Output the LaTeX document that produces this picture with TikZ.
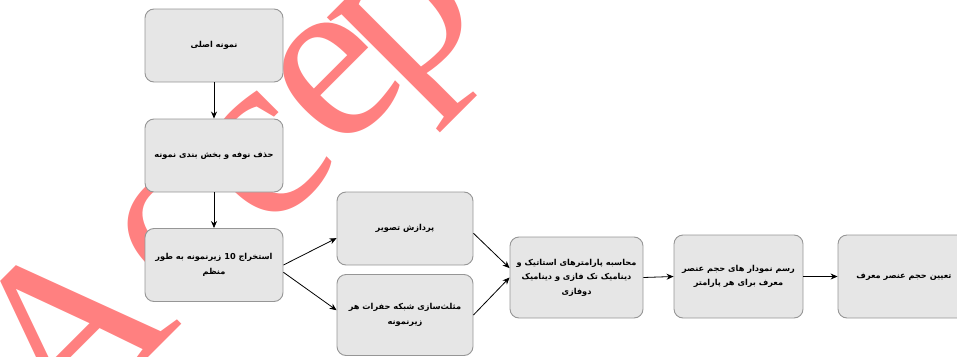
\documentclass[tikz,border=0pt]{standalone}
\usepackage{fontspec}
\usetikzlibrary{arrows.meta,positioning}
\TeXXeTstate=1
\newfontfamily\farsi[Script=Arabic]{DejaVu Sans}
\newfontfamily\wmfont{Liberation Serif}
\definecolor{boxfill}{RGB}{230,230,230}
\definecolor{boxline}{RGB}{150,150,150}
\definecolor{wmred}{RGB}{255,128,128}
\newcommand{\fatext}[1]{\beginR #1\endR}

\begin{document}
\begin{tikzpicture}[x=1pt,y=-1pt,
		box/.style={draw=boxline, fill=boxfill, rounded corners=9pt, line width=0.9pt, align=center, inner sep=2pt,
			font=\farsi\bfseries\fontsize{8.2}{14.5}\selectfont},
		flow/.style={-{Stealth[length=7pt,width=6pt]}, line width=0.8pt},
		stampletter/.style={wmred, rotate=45, anchor=base, inner sep=0pt,
			font=\wmfont\fontsize{240}{240}\selectfont}]
		\useasboundingbox (0,0) rectangle (957,356);

		% Watermark letters along the diagonal (behind the boxes)
		\foreach \ch/\px/\py [count=\i] in {A/122/384, c/219/274, c/304/199, e/376/119, p/444/57, t/510/-8, e/571/-69, d/651/-149} {
			\node[stampletter] (stamp\i) at (\px,\py) {\ch};
		}

		% Left column
		\node[box, minimum width=138pt, minimum height=73pt] (sample) at (214, 45.5) {\fatext{نمونه اصلی}};
		\node[box, minimum width=138pt, minimum height=73pt] (denoise) at (214, 155.5) {\fatext{حذف نوفه و بخش بندی نمونه}};
		\node[box, minimum width=138pt, minimum height=73pt] (extract) at (214, 265) {\fatext{استخراج 10 زیرنمونه به طور}\\ \fatext{منظم}};

		% Two parallel branches
		\node[box, minimum width=136pt, minimum height=73pt] (imgproc) at (405, 228.5) {\fatext{پردازش تصویر}};
		\node[box, minimum width=136pt, minimum height=81pt] (mesh) at (405, 315) {\fatext{مثلث‌سازی شبکه حفرات هر}\\ \fatext{زیرنمونه}};

		% Right row
		\node[box, minimum width=133pt, minimum height=81pt] (params) at (576.5, 277.5) {\fatext{محاسبه پارامترهای استاتیک و}\\ \fatext{دینامیک تک فازی و دینامیک}\\ \fatext{دوفازی}};
		\node[box, minimum width=129pt, minimum height=83pt] (plots) at (738.5, 276.5) {\fatext{رسم نمودار های حجم عنصر}\\ \fatext{معرف برای هر پارامتر}};
		\node[box, minimum width=132pt, minimum height=83pt] (rev) at (904, 276.5) {\fatext{تعیین حجم عنصر معرف}};

		% Connectors
		\draw[flow] (sample) -- (denoise);
		\draw[flow] (denoise) -- (extract);
		\draw[flow] (extract.east) -- (imgproc.188);
		\draw[flow] (extract.-6) -- (mesh.176);
		\draw[flow] (imgproc.-4) -- (params.172);
		\draw[flow] (mesh.east) -- (params.west);
		\draw[flow] (params.east) -- (plots.west);
		\draw[flow] (plots.east) -- (rev.west);
	\end{tikzpicture}
\end{document}
